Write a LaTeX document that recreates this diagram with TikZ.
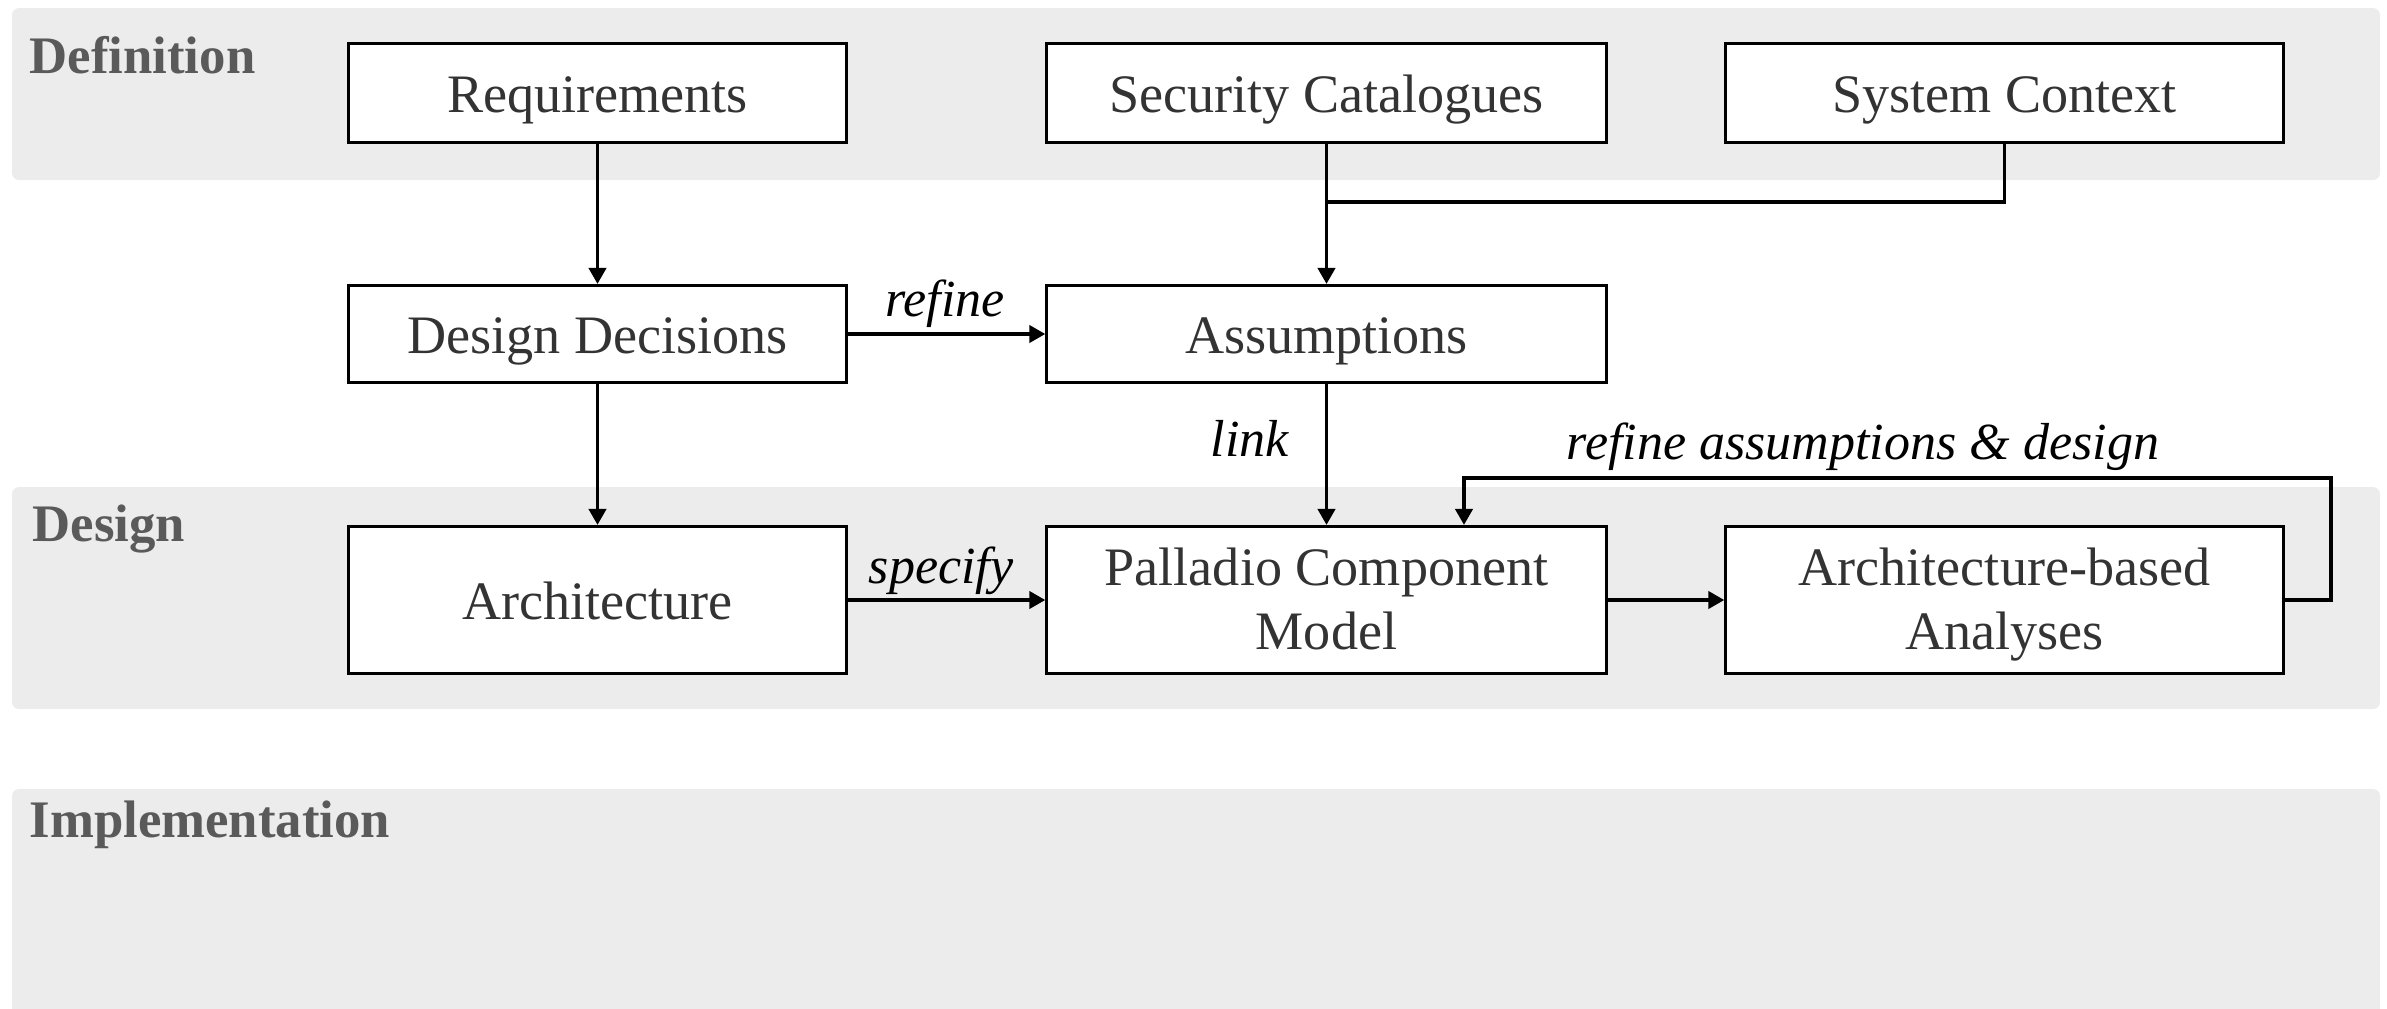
\documentclass[tikz,border=0pt]{standalone}
\usepackage{fontspec}
\setmainfont{Liberation Serif}
\usetikzlibrary{arrows.meta,positioning}

\definecolor{bandfill}{HTML}{ECECEC}
\definecolor{bandtext}{HTML}{5A5A5A}
\definecolor{boxtext}{HTML}{333333}

% one line of box text, baseline set a little below the box centre
\newcommand{\oneline}[1]{\raisebox{0pt}[10.8pt][0pt]{#1}}
% two lines of box text, first baseline just above the box centre
\newcommand{\twolines}[2]{\raisebox{0pt}[0pt][8pt]{\begin{tabular}[t]{@{}c@{}}#1\\#2\end{tabular}}}

\tikzset{
  band/.style={fill=bandfill, draw=none, rounded corners=2pt},
  bandlabel/.style={anchor=west, text=bandtext, font=\fontsize{15}{17}\selectfont\bfseries, inner sep=0pt},
  stagebox/.style={draw=black, fill=white, line width=0.85pt, inner sep=0pt,
    text=boxtext, font=\fontsize{15.4}{18.2}\selectfont, align=center},
  flow/.style={line width=1.1pt, -{Triangle[length=1.6mm, width=1.7mm]}},
  plain/.style={line width=1.1pt},
  edgelabel/.style={font=\fontsize{14.8}{17}\selectfont\itshape, text=black, inner sep=0pt}
}

\begin{document}
\begin{tikzpicture}[x=0.01cm, y=-0.01cm]
  \useasboundingbox (0,0) rectangle (2387,1008);

  % phase bands
  \fill[band] (12,8) rectangle (2380,180);
  \fill[band] (12,487) rectangle (2380,709);
  \fill[band] (12,789) rectangle (2380,1020);
  \node[bandlabel] (lblDef)  at (29,55)  {Definition};
  \node[bandlabel] (lblDes)  at (32,529) {Design};
  \node[bandlabel] (lblImpl) at (29,825) {Implementation};

  % boxes
  \node[stagebox, minimum width=4.97cm, minimum height=0.98cm] (req) at (597.5,93)  {\oneline{Requirements}};
  \node[stagebox, minimum width=5.59cm, minimum height=0.98cm] (sec) at (1326.5,93) {\oneline{Security Catalogues}};
  \node[stagebox, minimum width=5.57cm, minimum height=0.98cm] (ctx) at (2004.5,93) {\oneline{System Context}};

  \node[stagebox, minimum width=4.97cm, minimum height=0.97cm] (dd)  at (597.5,334)  {\oneline{Design Decisions}};
  \node[stagebox, minimum width=5.59cm, minimum height=0.97cm] (ass) at (1326.5,334) {\oneline{Assumptions}};

  \node[stagebox, minimum width=4.97cm, minimum height=1.47cm] (arch) at (597.5,600)  {\oneline{Architecture}};
  \node[stagebox, minimum width=5.59cm, minimum height=1.47cm] (pcm)  at (1326.5,600) {\twolines{Palladio Component}{Model}};
  \node[stagebox, minimum width=5.57cm, minimum height=1.47cm] (ana)  at (2004.5,600) {\twolines{Architecture-based}{Analyses}};

  % junction and loop points
  \coordinate (join)  at (1326.5,202);
  \coordinate (loopR) at (2331,478);
  \coordinate (loopL) at (1464,478);

  % connectors
  \draw[flow] (req) -- (dd);
  \draw[flow] (dd) -- (arch);
  \draw[flow] (sec) -- (ass);
  \draw[plain] (ctx.south) |- (join);
  \draw[flow] (dd) -- (ass);
  \draw[flow] (ass) -- (pcm);
  \draw[flow] (arch) -- (pcm);
  \draw[flow] (pcm) -- (ana);
  \draw[flow] (ana.east) -| (loopR) -- (loopL) -- (loopL |- pcm.north);

  % edge labels
  \node[edgelabel] (lRefine)  at (945,304)  {refine};
  \node[edgelabel] (lSpecify) at (941,571)  {specify};
  \node[edgelabel] (lLink)    at (1250,438) {link};
  \node[edgelabel] (lLoop)    at (1863,447) {refine assumptions \& design};
\end{tikzpicture}
\end{document}
